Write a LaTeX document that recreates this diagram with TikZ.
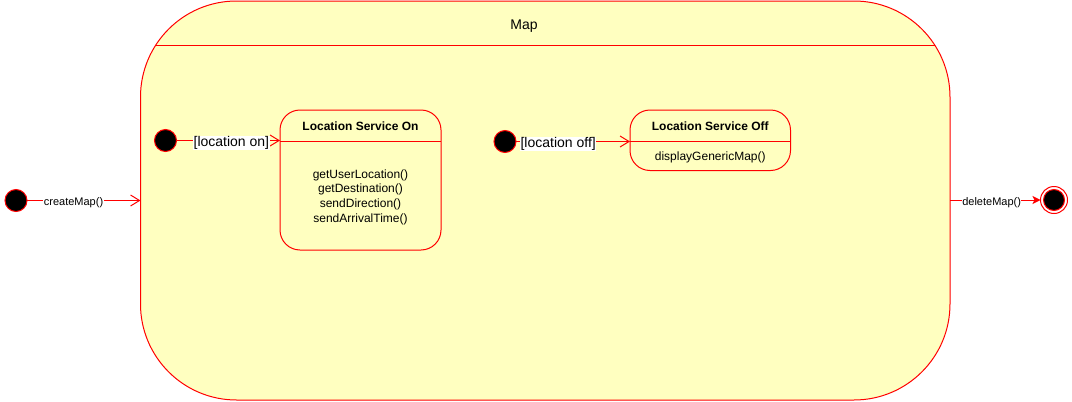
\documentclass[tikz,border=0pt]{standalone}
\usepackage{fontspec}
\setmainfont{Liberation Sans}
\usetikzlibrary{arrows.meta}
\definecolor{stateyellow}{HTML}{FFFFC0}
\definecolor{umlred}{HTML}{FF0000}
\begin{document}
\begin{tikzpicture}[x=1pt,y=-1pt,
  every node/.style={inner sep=0pt, outer sep=0pt},
  initstate/.style={circle, fill=black, draw=umlred, line width=1pt, minimum size=22pt},
  statebox/.style={rectangle, fill=stateyellow, draw=umlred, line width=1pt},
  sepline/.style={draw=umlred, line width=1pt},
  trans/.style={draw=umlred, line width=1pt, -{Straight Barb[length=9pt,width=11pt,line width=1pt]}},
  endtrans/.style={draw=umlred, line width=1pt, -{Stealth[length=8pt,width=8pt,inset=2pt]}},
  titletext/.style={font=\bfseries\fontsize{12}{14}\selectfont},
  bodytext/.style={align=center, font=\fontsize{12}{14.6}\selectfont},
  edgelabel/.style={fill=white, inner sep=0.5pt, yshift=-2.5pt, font=\fontsize{11}{13}\selectfont},
  guardlabel/.style={fill=white, inner sep=0.5pt, yshift=-2.5pt, font=\fontsize{14}{16}\selectfont}
]
\useasboundingbox (0,0) rectangle (1072,402);

% composite state Map
\node[statebox, rounded corners=96pt, minimum width=809.5pt, minimum height=399pt] (map) at (545.25,200.5) {};
\coordinate (hdrL) at (140,45);
\coordinate (hdrR) at (951,45);
\begin{scope}
  \clip[rounded corners=96pt] (map.north west) rectangle (map.south east);
  \draw[sepline] (hdrL) -- (hdrR);
\end{scope}
\node[font=\fontsize{14}{16}\selectfont] (mapTitle) at (524,26.5) {Map};

% Location Service On
\node[statebox, rounded corners=20pt, minimum width=161pt, minimum height=140pt] (lsOn) at (360.5,180) {};
\coordinate (onSepL) at (280,141);
\coordinate (onSepR) at (441,141);
\draw[sepline] (onSepL) -- (onSepR);
\node[titletext] (onTitle) at (360.5,126.5) {Location Service On};
\node[bodytext] (onBody) at (360.5,197) {getUserLocation()\\getDestination()\\sendDirection()\\sendArrivalTime()};

% Location Service Off
\node[statebox, rounded corners=20pt, minimum width=160.5pt, minimum height=60.5pt] (lsOff) at (710.25,140.25) {};
\coordinate (offSepL) at (630,141.5);
\coordinate (offSepR) at (790.5,141.5);
\draw[sepline] (offSepL) -- (offSepR);
\node[titletext] (offTitle) at (710.25,126.5) {Location Service Off};
\node[bodytext] (offBody) at (710.25,157) {displayGenericMap()};

% initial states
\node[initstate] (init1) at (16,200.5) {};
\node[initstate] (init2) at (165.5,140.5) {};
\node[initstate] (init3) at (505,141.5) {};

% final state
\node[circle, draw=umlred, fill=white, line width=1pt, minimum size=27pt] (final) at (1054,200) {};
\node[circle, draw=umlred, fill=black, line width=1pt, minimum size=21pt] (finalIn) at (1054,200) {};

% transitions
\draw[trans] (init1) -- (map.west |- init1) node[edgelabel, pos=0.41] (lblCreate) {createMap()};
\draw[trans] (init2) -- (init2 -| lsOn.west) node[guardlabel, pos=0.53] (lblOn) {[location on]};
\draw[trans] (init3) -- (init3 -| lsOff.west) node[guardlabel, pos=0.37] (lblOff) {[location off]};
\draw[endtrans] (map.east |- final) -- (final.west) node[edgelabel, pos=0.46] (lblDelete) {deleteMap()};
\end{tikzpicture}
\end{document}
